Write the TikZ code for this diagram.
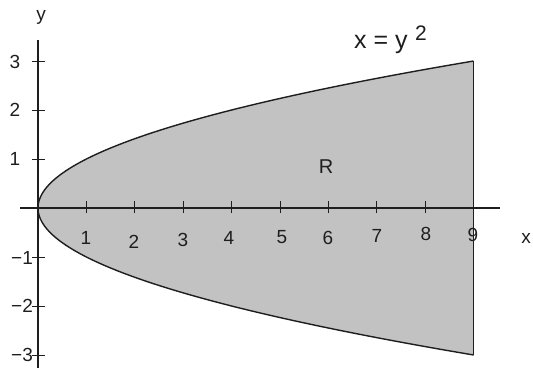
\documentclass[tikz,border=0pt]{standalone}
\usepackage{fontspec}
\setmainfont{Liberation Sans}
\definecolor{regionfill}{RGB}{194,194,194}
\definecolor{ink}{RGB}{30,30,30}
\begin{document}
\begin{tikzpicture}[x=1pt,y=-1pt,
  lbl/.style={inner sep=0pt,text=ink,font=\fontsize{19}{19}\selectfont},
  axis/.style={draw=ink,line width=1.1pt},
  curve/.style={draw=ink,line width=1.4pt},
  tick/.style={draw=ink,line width=1pt}]
\useasboundingbox (0,0) rectangle (533,367);
\begin{scope}[shift={(38,208)},x=48.4pt,y=49pt]
  \fill[regionfill] plot[domain=-3:3,samples=120] ({\x*\x},{\x}) -- cycle;
  % axes
  \coordinate (xl) at (-0.37,0);
  \coordinate (xr) at (9.55,0);
  \coordinate (yb) at (0,-3.26);
  \coordinate (yt) at (0,3.43);
  \draw[axis] (xl) -- (xr);
  \draw[axis] (yb) -- (yt);
  % boundary
  \draw[curve] plot[domain=-3:3,samples=120] ({\x*\x},{\x});
  \coordinate (top) at (9,3);
  \coordinate (bot) at (9,-3);
  \draw[curve] (top) -- (bot);
  % x ticks
  \foreach \i in {1,...,9} {
    \draw[tick] (\i,0.14) -- (\i,-0.1);
  }
  % y ticks
  \foreach \j in {-3,-2,-1,1,2,3} {
    \draw[tick] (-0.12,\j) -- (0.15,\j);
  }
\end{scope}
% x tick labels
\node[lbl] (n1) at (86,238) {1};
\node[lbl] (n2) at (134,242) {2};
\node[lbl] (n3) at (183,240) {3};
\node[lbl] (n4) at (229,238) {4};
\node[lbl] (n5) at (282,237) {5};
\node[lbl] (n6) at (328,238) {6};
\node[lbl] (n7) at (377,236) {7};
\node[lbl] (n8) at (426,234) {8};
\node[lbl] (n9) at (473,235) {9};
% y tick labels
\node[lbl] (m3) at (15,62) {3};
\node[lbl] (m2) at (15,110) {2};
\node[lbl] (m1) at (15,159) {1};
\node[lbl] (mm1) at (22,258) {−1};
\node[lbl] (mm2) at (22,306) {−2};
\node[lbl] (mm3) at (22,355) {−3};
% axis labels
\node[lbl] (xlab) at (526,238) {x};
\node[lbl] (ylab) at (41,17) {y};
% region label
\node[lbl,font=\fontsize{20}{20}\selectfont] (R) at (326,167) {R};
% equation
\node[lbl,anchor=base west,font=\fontsize{25}{25}\selectfont] (eq) at (354,48) {x = y};
\node[lbl,anchor=base west,font=\fontsize{21}{21}\selectfont] (sq) at (415,40) {2};
\end{tikzpicture}
\end{document}
